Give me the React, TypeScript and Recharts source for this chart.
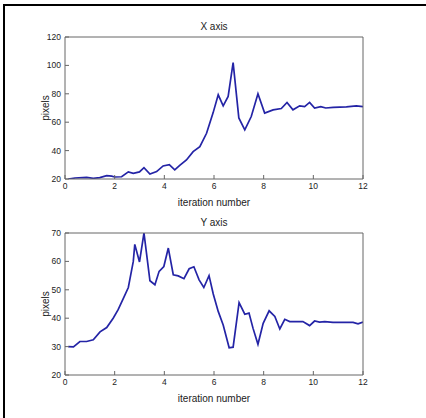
import React from 'react';
import { LineChart, Line, XAxis, YAxis, Label } from 'recharts';

const iterTicks = [0, 2, 4, 6, 8, 10, 12];
const xPanelTicks = [20, 40, 60, 80, 100, 120];
const yPanelTicks = [20, 30, 40, 50, 60, 70];

const xIter = [0.13, 0.4, 0.87, 1.14, 1.4, 1.68, 1.88, 2.0, 2.28, 2.55, 2.75, 3.0, 3.18, 3.42, 3.69, 3.95, 4.2, 4.42, 4.62, 4.89, 5.16, 5.43, 5.7, 5.96, 6.17, 6.37, 6.57, 6.77, 7.0, 7.24, 7.5, 7.77, 8.04, 8.38, 8.71, 8.94, 9.18, 9.45, 9.65, 9.85, 10.05, 10.3, 10.5, 10.8, 11.33, 11.73, 12.0];
const xPixels = [20, 20.7, 21.2, 20.5, 21, 22.4, 22, 21.4, 21.6, 25, 24, 25, 28, 23.5, 25.2, 29.2, 30.1, 26.4, 29.6, 33.4, 39.3, 42.8, 52.2, 66.4, 79.3, 71.5, 78.1, 102, 63, 54.6, 64, 80, 66.4, 68.7, 69.6, 73.9, 68.7, 71.5, 71, 73.9, 70, 71, 70, 70.4, 70.8, 71.5, 71];

const yIter = [0.13, 0.34, 0.6, 0.87, 1.14, 1.41, 1.68, 1.94, 2.14, 2.35, 2.55, 2.75, 2.81, 3.0, 3.18, 3.42, 3.62, 3.79, 3.98, 4.16, 4.36, 4.56, 4.79, 5.0, 5.19, 5.4, 5.59, 5.8, 5.97, 6.17, 6.37, 6.61, 6.77, 7.01, 7.24, 7.41, 7.57, 7.77, 7.98, 8.22, 8.45, 8.65, 8.85, 9.05, 9.58, 9.85, 10.05, 10.25, 10.46, 10.79, 11.6, 11.8, 12.0];
const yPixels = [30, 29.9, 31.8, 31.8, 32.4, 35.2, 36.7, 40, 43, 47, 50.8, 60, 66, 59.8, 70, 53.2, 51.8, 56.5, 58.2, 64.7, 55.3, 54.9, 53.9, 57.4, 58.1, 53.5, 50.8, 55, 48.5, 42.4, 37.6, 29.6, 29.8, 45.5, 41.4, 41.8, 36.5, 30.8, 38.2, 42.6, 40.6, 36.2, 39.6, 38.8, 38.8, 37.4, 39, 38.6, 38.8, 38.5, 38.5, 38, 38.6];

const FONT = '"Liberation Sans Narrow", "Liberation Sans", Arial, sans-serif';
const LINE_COLOR = '#2424a6';
const AXIS_COLOR = '#666';

type PanelProps = {
  title: string;
  iter: number[];
  values: number[];
  domain: [number, number];
  ticks: number[];
  top: number;
};

function Panel({ title, iter, values, domain, ticks, top }: PanelProps) {
  const data = iter.map((x, i) => ({ x, v: values[i] }));
  const tickStyle = { fontSize: 8.5, fill: '#222', fontFamily: FONT };
  const labelStyle = { fontSize: 10, fill: '#222', fontFamily: FONT };
  return (
    <div style={{ position: 'absolute', left: 0, top }}>
      <LineChart width={426} height={210} data={data} margin={{ top: 36, right: 62, bottom: 1, left: 25 }}>
        <XAxis
          xAxisId="b"
          dataKey="x"
          type="number"
          domain={[0, 12]}
          ticks={iterTicks}
          height={30}
          tickSize={-4}
          tickMargin={8}
          tick={tickStyle}
          stroke={AXIS_COLOR}
          allowDataOverflow
        >
          <Label value="iteration number" position="insideBottom" offset={3} style={labelStyle} />
        </XAxis>
        <XAxis
          xAxisId="t"
          dataKey="x"
          orientation="top"
          type="number"
          domain={[0, 12]}
          ticks={iterTicks}
          height={1}
          tickSize={-4}
          tick={false}
          stroke={AXIS_COLOR}
          allowDataOverflow
        >
          <Label value={title} position="top" offset={6} style={labelStyle} />
        </XAxis>
        <YAxis
          yAxisId="l"
          type="number"
          domain={domain}
          ticks={ticks}
          width={40}
          tickSize={-4}
          tickMargin={8}
          tick={tickStyle}
          stroke={AXIS_COLOR}
          allowDataOverflow
        >
          <Label value="pixels" position="center" angle={-90} style={labelStyle} />
        </YAxis>
        <YAxis
          yAxisId="r"
          orientation="right"
          type="number"
          domain={domain}
          ticks={ticks}
          width={1}
          tickSize={-4}
          tick={false}
          stroke={AXIS_COLOR}
          allowDataOverflow
        />
        <Line
          xAxisId="t"
          yAxisId="r"
          dataKey="v"
          type="linear"
          stroke="none"
          strokeWidth={0}
          dot={false}
          activeDot={false}
          isAnimationActive={false}
        />
        <Line
          xAxisId="b"
          yAxisId="l"
          dataKey="v"
          type="linear"
          stroke={LINE_COLOR}
          strokeWidth={1.7}
          dot={false}
          isAnimationActive={false}
        />
      </LineChart>
    </div>
  );
}

export default function App() {
  return (
    <div style={{ position: 'absolute', left: 0, top: 0, width: 426, height: 418, background: '#fff', overflow: 'hidden', fontFamily: FONT }}>
      <div style={{ position: 'absolute', left: 3, top: 4, width: 423, height: 414, borderTop: '2px solid #000', borderLeft: '2px solid #000', boxSizing: 'border-box' }} />
      <Panel title="X axis" iter={xIter} values={xPixels} domain={[20, 120]} ticks={xPanelTicks} top={0} />
      <Panel title="Y axis" iter={yIter} values={yPixels} domain={[20, 70]} ticks={yPanelTicks} top={196} />
    </div>
  );
}
